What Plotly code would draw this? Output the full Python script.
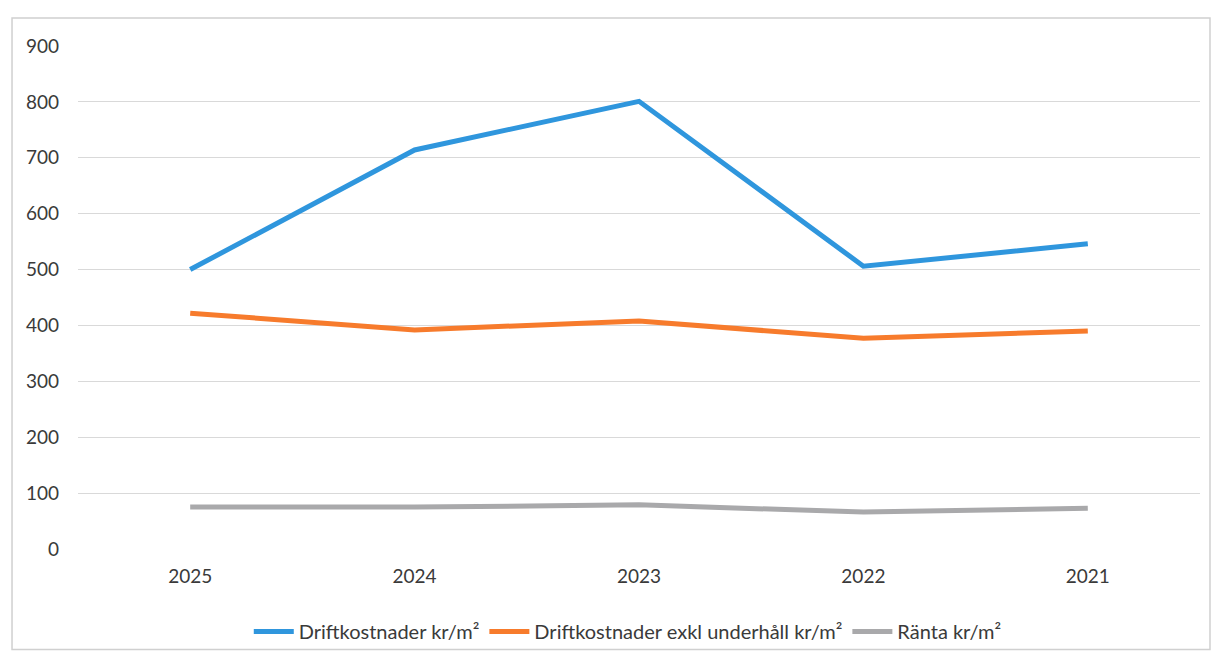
import plotly.graph_objects as go

years = ["2025", "2024", "2023", "2022", "2021"]
drift = [500, 714, 801, 506, 546]
drift_exkl = [422, 392, 408, 377, 390]
ranta = [75, 75, 79, 66, 73]

y_ticks = [0, 100, 200, 300, 400, 500, 600, 700, 800, 900]

fig = go.Figure()
series = [
    ("Driftkostnader kr/m²", drift, "#2F96DD"),
    ("Driftkostnader exkl underhåll kr/m²", drift_exkl, "#F77B2C"),
    ("Ränta kr/m²", ranta, "#A9A9AB"),
]
for name, vals, col in series:
    fig.add_trace(go.Scatter(x=years, y=vals, name=name, mode="lines",
                             line=dict(color=col, width=5)))

fig.update_layout(
    width=1220, height=655,
    margin=dict(l=70, r=28, t=38, b=114, autoexpand=False),
    paper_bgcolor="white", plot_bgcolor="white",
    font=dict(family="Lato, 'Open Sans', sans-serif", size=19, color="#3a3a3a"),
    showlegend=True,
    legend=dict(orientation="h", x=0.49, xanchor="center", y=-0.125, yanchor="top",
                bgcolor="rgba(0,0,0,0)", itemwidth=40,
                font=dict(size=20, color="#3a3a3a")),
    xaxis=dict(type="category", range=[-0.5, 4.5], showgrid=False, zeroline=False,
               showline=False, ticks="", ticklabelstandoff=14, tickfont=dict(size=19),
               automargin=False),
    yaxis=dict(range=[0, 900], tickvals=y_ticks, showgrid=True, gridcolor="#d9d9d9",
               gridwidth=1, zeroline=False, showline=False, ticks="",
               ticklabelstandoff=18, tickfont=dict(size=19), automargin=False),
    shapes=[dict(type="rect", xref="paper", yref="paper", x0=-0.0588, x1=1.0089,
                 y0=-0.2, y1=1.0557, line=dict(color="#d0d0d0", width=1.5),
                 fillcolor="rgba(0,0,0,0)", layer="below")],
)

fig.write_html("out.html")
